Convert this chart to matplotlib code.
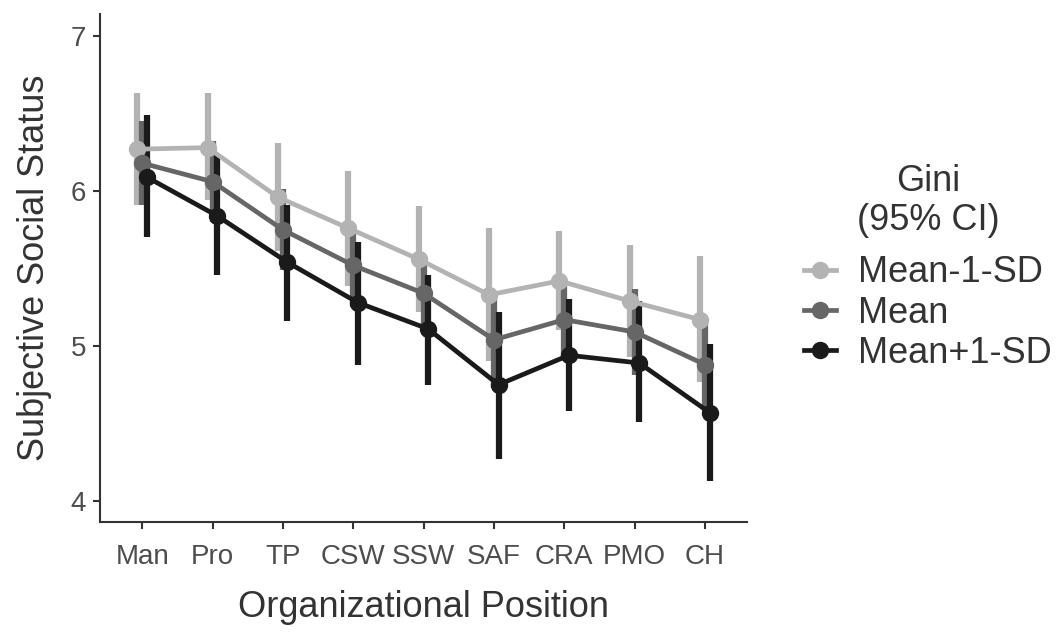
import matplotlib
matplotlib.use("Agg")
import matplotlib.pyplot as plt
import numpy as np

plt.rcParams['font.family'] = ['Liberation Sans', 'DejaVu Sans']

categories = ["Man", "Pro", "TP", "CSW", "SSW", "SAF", "CRA", "PMO", "CH"]
groups = ["Mean-1-SD", "Mean", "Mean+1-SD"]
colors = ["#B3B3B3", "#666666", "#1A1A1A"]

means = {
    "Mean-1-SD": [6.27, 6.28, 5.96, 5.76, 5.56, 5.33, 5.42, 5.29, 5.17],
    "Mean":      [6.18, 6.06, 5.75, 5.52, 5.34, 5.04, 5.17, 5.09, 4.88],
    "Mean+1-SD": [6.09, 5.84, 5.54, 5.28, 5.11, 4.75, 4.94, 4.89, 4.57],
}
upper = {
    "Mean-1-SD": [6.63, 6.63, 6.31, 6.13, 5.90, 5.76, 5.74, 5.65, 5.58],
    "Mean":      [6.45, 6.32, 6.01, 5.79, 5.58, 5.35, 5.43, 5.37, 5.18],
    "Mean+1-SD": [6.49, 6.23, 5.91, 5.67, 5.46, 5.22, 5.30, 5.29, 5.01],
}
lower = {
    "Mean-1-SD": [5.91, 5.94, 5.61, 5.39, 5.22, 4.90, 5.10, 4.93, 4.77],
    "Mean":      [5.91, 5.80, 5.49, 5.25, 5.10, 4.73, 4.91, 4.81, 4.58],
    "Mean+1-SD": [5.70, 5.46, 5.16, 4.88, 4.75, 4.27, 4.58, 4.51, 4.13],
}
legend_title = "Gini\n(95% CI)"

fig = plt.figure(figsize=(10.63, 6.37), dpi=100)
ax = fig.add_axes([0.094, 0.1805, 0.609, 0.797])

x = np.arange(len(categories))
offsets = [-0.07, 0.0, 0.065]
for g, c, off in zip(groups, colors, offsets):
    xs = x + off
    m = np.array(means[g])
    up = np.array(upper[g])
    lo = np.array(lower[g])
    ax.vlines(xs, lo, up, color=c, lw=4.5, zorder=2)
    ax.plot(xs, m, color=c, lw=3.4, marker='o', markersize=11.5, zorder=3, label=g)

ax.set_xlim(-0.6, len(categories) - 0.4)
ax.set_ylim(3.864, 7.14)
ax.set_yticks([4, 5, 6, 7])
ax.set_xticks(x)
ax.set_xticklabels(categories)
ax.tick_params(axis='both', labelsize=20, colors='#333333', length=5, width=1.5, labelcolor='#4D4D4D')
ax.tick_params(axis='x', pad=11)
ax.tick_params(axis='y', pad=5)
for s in ['top', 'right']:
    ax.spines[s].set_visible(False)
for s in ['left', 'bottom']:
    ax.spines[s].set_linewidth(1.5)
    ax.spines[s].set_color('#333333')

ax.set_xlabel("Organizational Position", fontsize=26, color='#333333', labelpad=14)
ax.set_ylabel("Subjective Social Status", fontsize=26, color='#333333', labelpad=13)

leg = fig.legend(*ax.get_legend_handles_labels(), loc='center left',
                 bbox_to_anchor=(0.7563, 0.5086), bbox_transform=fig.transFigure,
                 frameon=False, fontsize=26, handlelength=0.9,
                 handletextpad=0.6, labelspacing=0.14, borderaxespad=0, borderpad=0)
for t in leg.get_texts():
    t.set_color('#333333')

fig.text(928 / 1063, 1 - 201 / 637, legend_title, fontsize=26, color='#333333',
         ha='center', va='center', multialignment='center', linespacing=1.15)

fig.savefig("out.png", dpi=100)
